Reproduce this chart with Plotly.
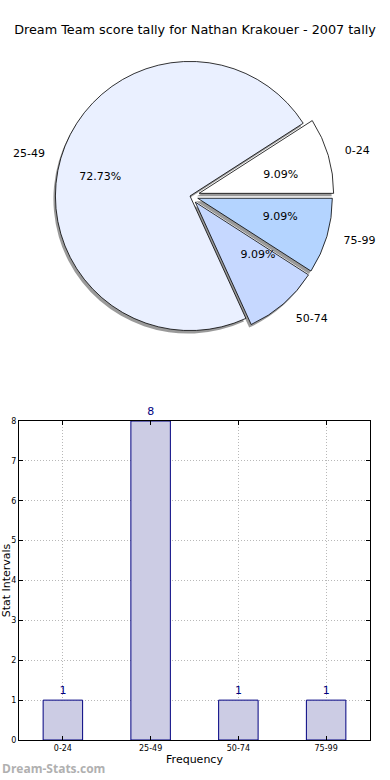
import plotly.graph_objects as go

categories = ["0-24", "25-49", "50-74", "75-99"]
counts = [1, 8, 1, 1]
pie_colors = ["#ffffff", "#eaf0ff", "#c6d8ff", "#b4d4ff"]
pulls = [0.07, 0.0, 0.06, 0.06]
y_ticks = [0, 1, 2, 3, 4, 5, 6, 7, 8]

W, H = 390, 780
FONT = "DejaVu Sans"


def px(x):
    return x / W


def py(y):
    return 1 - y / H


# first slice starts at 3 o'clock going counterclockwise
start_rot = 90 - 360 * counts[0] / sum(counts)

fig = go.Figure()

cx, cy, half = 190, 196, 144


def dom(h, dx=0, dy=0):
    return dict(x=[px(cx - h + dx), px(cx + h + dx)], y=[py(cy + h + dy), py(cy - h + dy)])


common = dict(labels=categories, values=counts, sort=False, direction="counterclockwise",
              rotation=start_rot, pull=pulls, showlegend=False, automargin=False)

# shadow
fig.add_trace(go.Pie(
    **common, textinfo="none", hoverinfo="skip",
    marker=dict(colors=["rgba(120,120,120,0.75)"] * 4, line=dict(width=0)),
    domain=dom(half, -2, 3),
))
# main pie
fig.add_trace(go.Pie(
    **common, textinfo="none",
    marker=dict(colors=pie_colors, line=dict(color="black", width=0.8)),
    domain=dom(half),
))
# percentages (transparent inner pie, text just outside its rim)
fig.add_trace(go.Pie(
    **common, texttemplate="%{percent:.2%}", textposition="outside",
    textfont=dict(family=FONT, size=11, color="black"),
    marker=dict(colors=["rgba(0,0,0,0)"] * 4, line=dict(width=0)),
    hoverinfo="skip", domain=dom(73),
))
# outside category labels
fig.add_trace(go.Pie(
    **common, textinfo="label", textposition="outside",
    textfont=dict(family=FONT, size=11, color="black"),
    marker=dict(colors=["rgba(0,0,0,0)"] * 4, line=dict(width=0)),
    hoverinfo="skip", domain=dom(158),
))

fig.add_trace(go.Bar(
    x=categories, y=counts, width=0.45,
    marker=dict(color="#ccccE4", line=dict(color="#000080", width=1)),
    text=[str(c) for c in counts], textposition="outside", cliponaxis=False,
    textfont=dict(family=FONT, size=11, color="#000080"),
    xaxis="x", yaxis="y", showlegend=False,
))

axis_common = dict(showline=True, linecolor="black", linewidth=1, mirror="all",
                   ticks="inside", ticklen=4, tickcolor="black",
                   showgrid=True, gridcolor="#b8b8b8", griddash="1px,2px", gridwidth=1,
                   zeroline=False, automargin=False,
                   tickfont=dict(family=FONT, size=8))

fig.update_layout(
    width=W, height=H, paper_bgcolor="white", plot_bgcolor="white",
    margin=dict(l=0, r=0, t=0, b=0, autoexpand=False),
    font=dict(family=FONT, color="black"),
    title=dict(text="Dream Team score tally for Nathan Krakouer - 2007 tally",
               x=px(195), xanchor="center", y=py(30), yanchor="middle",
               xref="paper", yref="paper", automargin=False,
               font=dict(family=FONT, size=12.8, color="black")),
    xaxis=dict(domain=[px(19), px(370)], range=[-0.5, 3.5], anchor="y",
               title=dict(text="Frequency", font=dict(family=FONT, size=11), standoff=3),
               **axis_common),
    yaxis=dict(domain=[py(740), py(421)], range=[0, 8], anchor="x",
               tickvals=y_ticks,
               title=dict(text="Stat Intervals", font=dict(family=FONT, size=11), standoff=0),
               **axis_common),
    annotations=[dict(text="<b>Dream-Stats.com</b>", x=px(0), y=py(779), xref="paper", yref="paper",
                      xanchor="left", yanchor="bottom", showarrow=False,
                      font=dict(family="Open Sans", size=12, color="#b0b0b0"))],
)

fig.write_html("out.html", config={"displayModeBar": False},
               post_script="document.body.style.margin='0';")
